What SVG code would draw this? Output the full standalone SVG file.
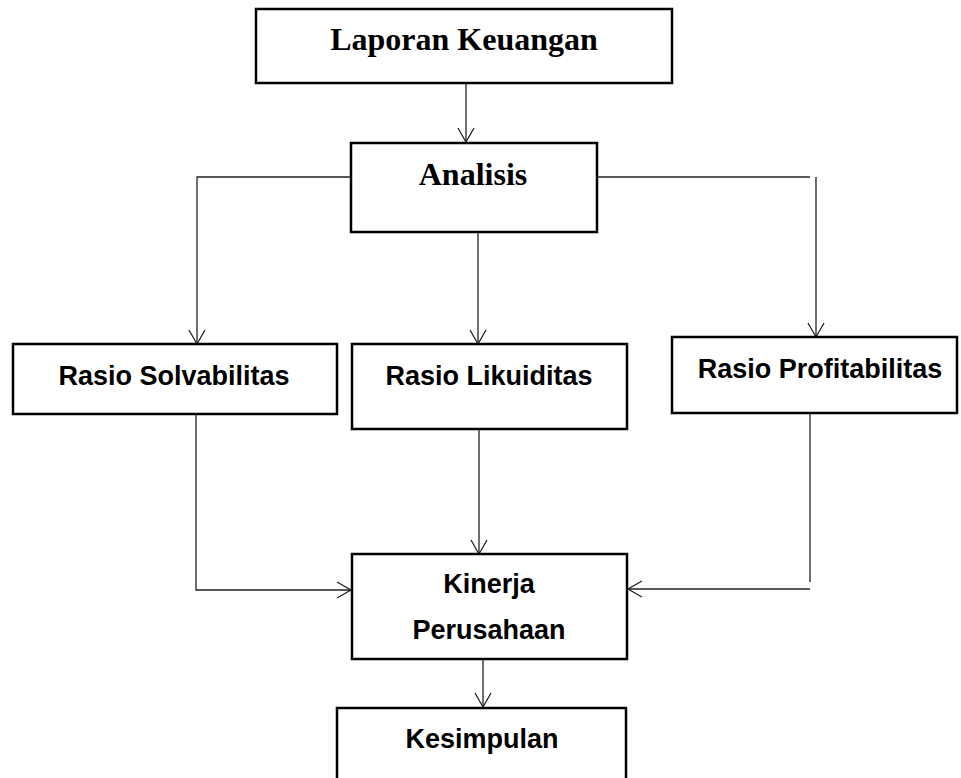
<svg xmlns="http://www.w3.org/2000/svg" width="961" height="778" viewBox="0 0 961 778">
<defs>
<marker id="arr" markerUnits="userSpaceOnUse" markerWidth="20" markerHeight="20" viewBox="-16 -10 18 20" refX="0" refY="0" orient="auto">
<path d="M-14,-8 L0,0 L-14,8" fill="none" stroke="#222" stroke-width="1.3"/>
</marker>
<style>
.box{fill:#fff;stroke:#000;stroke-width:2.5}
.ser{font-family:"Liberation Serif","Times New Roman",serif;font-weight:bold;font-size:32px;fill:#000;text-anchor:middle}
.san{font-family:"Liberation Sans",Arial,sans-serif;font-weight:bold;font-size:27px;fill:#000;text-anchor:middle}
.c{fill:none;stroke:#222;stroke-width:1.3}
.ca{fill:none;stroke:#222;stroke-width:1.3;marker-end:url(#arr)}
</style>
</defs>
<rect width="961" height="778" fill="#fff"/>
<g id="connectors">
<path class="ca" d="M466,79 V142"/>
<path class="ca" d="M351,177 H197 V344"/>
<path class="c" d="M592,177 H810"/>
<path class="ca" d="M816,177 V337"/>
<path class="ca" d="M478,228 V344"/>
<path class="ca" d="M196,415 V590 H351"/>
<path class="ca" d="M479,424 V554"/>
<path class="c" d="M810,410 V582"/>
<path class="ca" d="M810,589 H628"/>
<path class="ca" d="M483,657 V707"/>
</g>
<g id="laporan">
<rect class="box" x="256" y="9" width="416" height="74"/>
<text class="ser" x="464" y="50">Laporan Keuangan</text>
</g>
<g id="analisis">
<rect class="box" x="351" y="143" width="246" height="89"/>
<text class="ser" x="473" y="185">Analisis</text>
</g>
<g id="solvabilitas">
<rect class="box" x="13" y="344" width="324" height="70"/>
<text class="san" x="174" y="385">Rasio Solvabilitas</text>
</g>
<g id="likuiditas">
<rect class="box" x="352" y="344" width="275" height="85"/>
<text class="san" x="489" y="385">Rasio Likuiditas</text>
</g>
<g id="profitabilitas">
<rect class="box" x="672" y="337" width="285" height="76"/>
<text class="san" x="820" y="378">Rasio Profitabilitas</text>
</g>
<g id="kinerja">
<rect class="box" x="352" y="554" width="275" height="105"/>
<text class="san" x="489" y="593">Kinerja</text>
<text class="san" x="489" y="639">Perusahaan</text>
</g>
<g id="kesimpulan">
<rect class="box" x="337" y="708" width="289" height="90"/>
<text class="san" x="482" y="748">Kesimpulan</text>
</g>
</svg>
